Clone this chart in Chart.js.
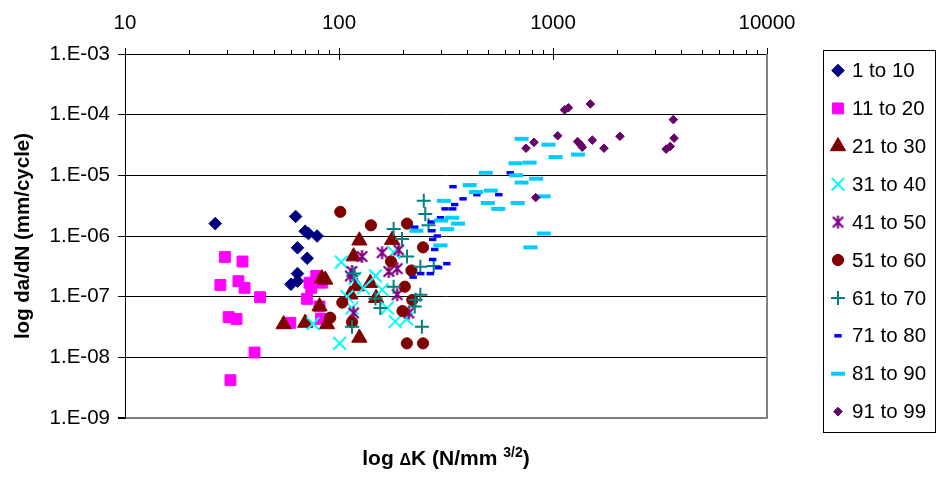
<!DOCTYPE html>
<html>
<head>
<meta charset="utf-8">
<script src="https://cdn.jsdelivr.net/npm/chart.js@4.4.1/dist/chart.umd.min.js"></script>
<style>
  html, body { margin: 0; padding: 0; background: #fff; }
  #wrap { width: 937px; height: 478px; }
</style>
</head>
<body>
<div id="wrap"><canvas id="chart" width="937" height="478"></canvas></div>
<script>
// da/dN vs dK scatter, 10 groups

// ============================================================
// Data  [dK (N/mm^3/2), da/dN (mm/cycle)]
// ============================================================
const seriesNames = ['1 to 10', '11 to 20', '21 to 30', '31 to 40', '41 to 50',
                     '51 to 60', '61 to 70', '71 to 80', '81 to 90', '91 to 99'];

const g01 = [[26.4,1.6e-6],[62.7,2.1e-6],[69.5,1.2e-6],[72,1.1e-6],[79,1.0e-6],[64,6.4e-7],
             [71,4.3e-7],[64,2.4e-7],[64,1.8e-7],[59.6,1.6e-7]];
const g02 = [[29.3,4.5e-7],[35.4,3.8e-7],[27.9,1.56e-7],[33.9,1.8e-7],[36.2,1.4e-7],[42.8,9.8e-8],
             [30.5,4.6e-8],[33.2,4.3e-8],[40.3,1.2e-8],[31.1,4.2e-9],[72.8,1.7e-7],[78.3,2.2e-7],
             [83.2,1.7e-7],[74.2,1.4e-7],[70.8,9.2e-8],[81.1,6.9e-8],[59.2,3.7e-8],[82.4,4.3e-8]];
const g03 = [[55.1,3.5e-8],[69.5,3.7e-8],[81.1,6.9e-8],[83.2,2.0e-7],[86.3,1.9e-7],[87.9,3.5e-8],
             [124.5,8.4e-7],[117,4.6e-7],[113,1.08e-7],[124.5,2.1e-8],[140,1.68e-7],[149,9.5e-8],
             [177,8.6e-7],[121,1.48e-7]];
const g04 = [[75.6,3.6e-8],[100.7,1.7e-8],[102.5,3.7e-7],[115,6.5e-8],[109,1.0e-7],[119,2.0e-7],
             [130,1.39e-7],[148,2.2e-7],[159,1.3e-7],[168,6.5e-8],[183,3.9e-8],[207,4.3e-8],
             [180,5.4e-7]];
const g05 = [[128,4.6e-7],[117,5.4e-8],[159,5.3e-7],[190,5.9e-7],[171,2.6e-7],[187,2.9e-7],
             [187,1.08e-7],[113,2.2e-7],[212,5.4e-8],[115,2.6e-7]];
const g06 = [[101.4,2.5e-6],[141,1.5e-6],[208,1.6e-6],[247,6.5e-7],[175,3.8e-7],[218,2.7e-7],
             [203,1.46e-7],[220,8.8e-8],[198,5.8e-8],[103.6,8.0e-8],[91,4.5e-8],[115,3.8e-8],
             [207.5,1.7e-8],[247,1.7e-8]];
const g07 = [[249,3.8e-6],[253,2.3e-6],[262,1.5e-6],[180,1.3e-6],[197,8.9e-7],[208,4.6e-7],
             [240,3.1e-7],[277,3.2e-7],[117,2.4e-7],[148,9.3e-8],[156,6.5e-8],[180,1.46e-7],
             [226,6.9e-8],[240,1.08e-7],[244,3.2e-8],[115,3.2e-8],[228,8.9e-8]];
const g08 = [[341,6.5e-6],[380,4.1e-6],[347,3.3e-6],[313,2.8e-6],[340,2.8e-6],[298,2.0e-6],
             [270,1.7e-6],[226,1.4e-6],[272,1.22e-6],[288,1.0e-6],[274,8.8e-7],[280,6.0e-7],
             [274,4.1e-7],[319,3.5e-7],[292,3.0e-7],[267,2.4e-7],[241,2.4e-7],[222,2.1e-7],
             [441,4.8e-6],[558,4.8e-6],[631,1.1e-5]];
const g09 = [[309,3.8e-6],[338,2.0e-6],[360,1.6e-6],[320,1.3e-6],[298,7.0e-7],[230,1.22e-6],
             [300,1.8e-6],[408,6.9e-6],[437,5.3e-6],[512,5.6e-6],[485,1.1e-5],[496,3.5e-6],
             [555,2.8e-6],[668,1.58e-5],[778,1.62e-5],[673,1.0e-5],[713,7.6e-6],[834,8.8e-6],
             [684,3.5e-6],[904,4.5e-6],[906,1.1e-6],[785,6.5e-7],[713,4.0e-5],[953,3.2e-5],
             [1028,2.0e-5],[1309,2.2e-5]];
const g10 = [[1133,1.2e-4],[1180,1.3e-4],[1495,1.5e-4],[3650,8.3e-5],[3680,4.1e-5],[2055,4.4e-5],
             [1527,3.8e-5],[1052,4.5e-5],[815,3.5e-5],[748,2.8e-5],[1303,3.6e-5],[1371,2.9e-5],
             [1346,3.2e-5],[1731,2.8e-5],[3377,2.7e-5],[3532,3.0e-5],[830,4.3e-6]];

const groups = [g01, g02, g03, g04, g05, g06, g07, g08, g09, g10];

// axis ticks
const kDecades = [10, 100, 1000, 10000];
const kMinor = [2, 3, 4, 5, 6, 7, 8, 9];
const rateDecades = [1e-9, 1e-8, 1e-7, 1e-6, 1e-5, 1e-4, 1e-3];

// ============================================================
// Styles
// ============================================================
const FONT = "'Liberation Sans', Arial, sans-serif";

function makeAsterisk(size, color) {
  const c = document.createElement('canvas');
  c.width = size; c.height = size;
  const g = c.getContext('2d');
  const m = size / 2, a = size / 2 - 1;
  g.strokeStyle = color;
  g.lineWidth = 2.2;
  g.beginPath();
  g.moveTo(m, m - a); g.lineTo(m, m + a);
  g.moveTo(m - a * 0.8, m - a * 0.8); g.lineTo(m + a * 0.8, m + a * 0.8);
  g.moveTo(m + a * 0.8, m - a * 0.8); g.lineTo(m - a * 0.8, m + a * 0.8);
  g.stroke();
  return c;
}

const markers = [
  { style: 'rectRot',  r: 6.3, color: '#000080', bw: 1 },
  { style: 'rect',     r: 7.7, color: '#FF00FF', bw: 1 },
  { style: 'triangle', r: 8.8, color: '#800000', bw: 1 },
  { style: 'crossRot', r: 9,   color: '#00FFFF', bw: 2 },
  { style: makeAsterisk(15, '#800080'), r: 7.5, color: '#800080', bw: 2 },
  { style: 'circle',   r: 5.6, color: '#800000', bw: 1 },
  { style: 'cross',    r: 7,   color: '#008080', bw: 2 },
  { style: 'line',     r: 3.7, color: '#0000FF', bw: 3.5 },
  { style: 'line',     r: 7,   color: '#00CCFF', bw: 4 },
  { style: 'rectRot',  r: 4.3, color: '#660066', bw: 1 },
];

function isDecade(v) {
  const l = Math.log10(v);
  return Math.abs(l - Math.round(l)) < 1e-6;
}

function rateLabel(v) {
  const e = Math.round(Math.log10(v));
  return '1.E' + (e < 0 ? '-' : '+') + String(Math.abs(e)).padStart(2, '0');
}

// ============================================================
// Extra drawing: frame, major ticks, titles, legend
// ============================================================
const extras = {
  id: 'extras',
  afterDraw(chart) {
    const { ctx, chartArea: a, scales } = chart;
    ctx.save();

    // right border of plot area
    ctx.strokeStyle = '#808080';
    ctx.lineWidth = 2;
    ctx.beginPath();
    ctx.moveTo(a.right, a.top);
    ctx.lineTo(a.right, a.bottom + 1);
    ctx.stroke();

    // major ticks on top axis cross the line
    ctx.strokeStyle = '#000';
    ctx.lineWidth = 1;
    for (const v of kDecades) {
      const x = Math.round(scales.x.getPixelForValue(v)) + 0.5;
      ctx.beginPath();
      ctx.moveTo(x, a.top - 6);
      ctx.lineTo(x, a.top + (v === kDecades[0] || v === kDecades[kDecades.length - 1] ? 0 : 6));
      ctx.stroke();
    }

    // y title
    ctx.fillStyle = '#000';
    ctx.font = 'bold 20.5px ' + FONT;
    ctx.textAlign = 'center';
    ctx.textBaseline = 'middle';
    ctx.save();
    ctx.translate(23, (a.top + a.bottom) / 2);
    ctx.rotate(-Math.PI / 2);
    ctx.fillText('log da/dN (mm/cycle)', 0, 0);
    ctx.restore();

    // x title with superscript
    const parts = [
      { t: 'log ', f: 'bold 21px ' + FONT, dy: 0 },
      { t: '\u0394', f: 'bold 16px ' + FONT, dy: 0 },
      { t: 'K (N/mm ', f: 'bold 21px ' + FONT, dy: 0 },
      { t: '3/2', f: 'bold 14px ' + FONT, dy: -8 },
      { t: ')', f: 'bold 21px ' + FONT, dy: 0 },
    ];
    let total = 0;
    for (const p of parts) { ctx.font = p.f; p.w = ctx.measureText(p.t).width; total += p.w; }
    let x = (a.left + a.right) / 2 - total / 2;
    ctx.textAlign = 'left';
    ctx.textBaseline = 'alphabetic';
    for (const p of parts) {
      ctx.font = p.f;
      ctx.fillText(p.t, x, 465 + p.dy);
      x += p.w;
    }

    // legend box
    const lx = 823, ly = 50, lw = 112, lh = 382;
    ctx.strokeStyle = '#000';
    ctx.lineWidth = 1;
    ctx.strokeRect(lx + 0.5, ly + 0.5, lw, lh);
    ctx.font = '20.5px ' + FONT;
    ctx.textBaseline = 'middle';
    seriesNames.forEach((name, i) => {
      const cy = 70.5 + i * 37.9;
      const m = markers[i];
      ctx.fillStyle = m.color;
      ctx.strokeStyle = m.color;
      ctx.lineWidth = m.bw;
      Chart.helpers.drawPoint(ctx, { pointStyle: m.style, radius: m.r, borderWidth: m.bw, rotation: 0 }, 838, cy);
      ctx.fillStyle = '#000';
      ctx.fillText(name, 852, cy + 1);
    });

    ctx.restore();
  }
};

// ============================================================
// Chart
// ============================================================
const datasets = groups.map((g, i) => ({
  label: seriesNames[i],
  data: g.map(p => ({ x: p[0], y: p[1] })),
  order: groups.length - i,
  pointStyle: markers[i].style,
  pointRadius: markers[i].r,
  pointHoverRadius: markers[i].r,
  pointBorderWidth: markers[i].bw,
  pointBackgroundColor: markers[i].color,
  pointBorderColor: markers[i].color,
  showLine: false,
}));

new Chart(document.getElementById('chart'), {
  type: 'scatter',
  data: { datasets },
  options: {
    responsive: false,
    animation: false,
    layout: { padding: { left: 0, top: 0, right: 170, bottom: 60 } },
    plugins: { legend: { display: false }, tooltip: { enabled: false } },
    scales: {
      x: {
        type: 'logarithmic',
        position: 'top',
        min: 10, max: 10000,
        afterFit: s => { s.height = 54; },
        afterBuildTicks: s => {
          const t = [];
          kDecades.forEach((d, i) => {
            t.push({ value: d });
            if (i < kDecades.length - 1) kMinor.forEach(m => t.push({ value: d * m }));
          });
          s.ticks = t;
        },
        ticks: {
          autoSkip: false, maxRotation: 0, padding: 14, color: '#000',
          font: { family: FONT, size: 20.5 },
          callback: v => isDecade(v) ? String(Math.round(v)) : '',
        },
        grid: { drawOnChartArea: false, tickLength: 4, color: '#000' },
        border: { color: '#000', width: 1 },
      },
      y: {
        type: 'logarithmic',
        min: 1e-9, max: 1e-3,
        afterFit: s => { s.width = 125; },
        afterBuildTicks: s => { s.ticks = rateDecades.map(v => ({ value: v })); },
        ticks: {
          autoSkip: false, padding: 8, color: '#000',
          font: { family: FONT, size: 20.5 },
          callback: v => rateLabel(v),
        },
        grid: {
          color: c => (c.tick && c.tick.value < 1.5e-9 ? '#808080' : '#000'),
          lineWidth: c => (c.tick && c.tick.value < 1.5e-9 ? 2 : 1),
          tickLength: 7, tickColor: '#000',
        },
        border: { color: '#000', width: 1 },
      },
    },
  },
  plugins: [extras],
});
</script>
</body>
</html>
